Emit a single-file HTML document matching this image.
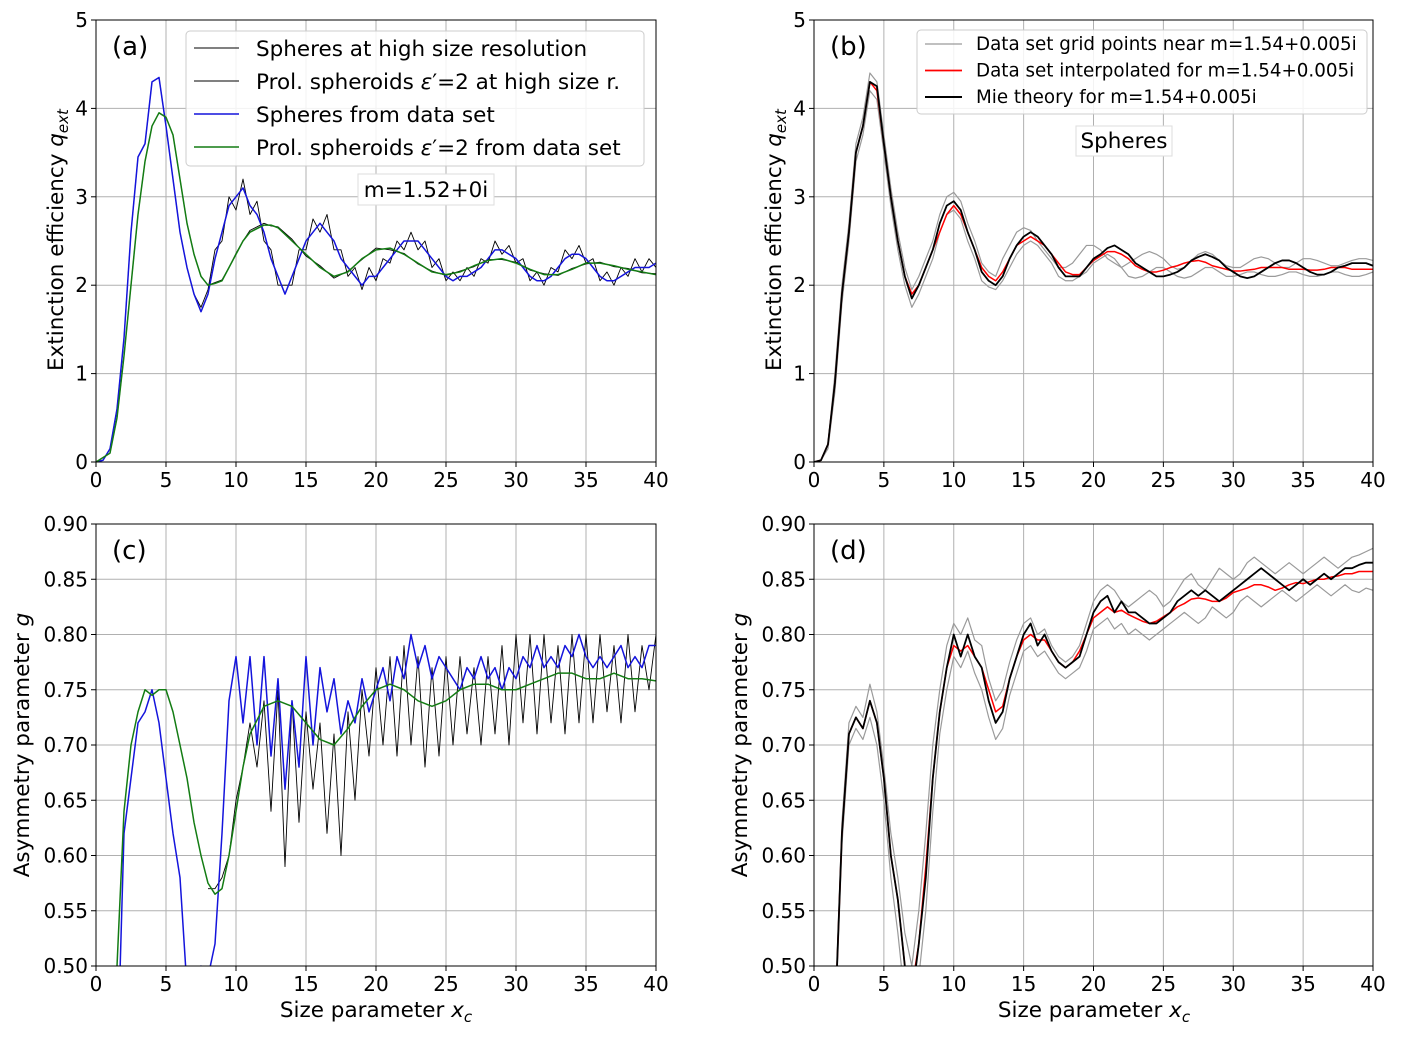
<!DOCTYPE html>
<html><head><meta charset="utf-8"><style>
html,body{margin:0;padding:0;background:#fff;width:1405px;height:1038px;overflow:hidden}
svg{display:block;font-family:"DejaVu Sans","Liberation Sans",sans-serif}
</style></head><body>
<svg id="fig" width="1405" height="1038" viewBox="0 0 1405 1038" xmlns="http://www.w3.org/2000/svg"></svg>
<script>
// ---------- Panel (a) data (x step 0.5 from 0) ----------
const aBlue=[0,0.02,0.15,0.6,1.4,2.6,3.45,3.6,4.3,4.35,
3.8,3.2,2.6,2.2,1.9,1.7,1.9,2.3,2.6,2.9,
3.0,3.1,2.9,2.8,2.6,2.3,2.1,1.9,2.1,2.3,
2.5,2.6,2.7,2.6,2.5,2.3,2.2,2.1,2.0,2.1,
2.1,2.2,2.3,2.4,2.5,2.5,2.5,2.4,2.3,2.2,
2.1,2.05,2.1,2.1,2.15,2.2,2.3,2.4,2.4,2.35,
2.3,2.2,2.1,2.05,2.05,2.1,2.2,2.3,2.35,2.35,
2.3,2.2,2.1,2.05,2.05,2.1,2.15,2.2,2.2,2.2,2.25];
const aBlackS=[0,0.02,0.15,0.6,1.4,2.6,3.45,3.6,4.3,4.35,
3.8,3.2,2.6,2.2,1.9,1.75,1.95,2.4,2.5,3.0,
2.85,3.2,2.8,2.95,2.5,2.4,2.0,2.0,2.0,2.4,
2.4,2.75,2.6,2.8,2.4,2.4,2.1,2.2,1.95,2.2,
2.05,2.3,2.25,2.5,2.4,2.6,2.4,2.5,2.2,2.3,
2.05,2.15,2.05,2.2,2.1,2.3,2.25,2.5,2.35,2.45,
2.25,2.3,2.05,2.15,2.0,2.2,2.15,2.4,2.3,2.45,
2.25,2.3,2.05,2.15,2.0,2.2,2.1,2.3,2.15,2.3,2.2];
const aGreenX=[0,1,1.5,2,2.5,3,3.5,4,4.5,5,5.5,6,6.5,7,7.5,8,8.5,9,9.5,10,10.5,11,12,12.5,13,14,15,16,17,18,19,20,21,22,23,24,25,26,27,28,29,30,31,32,33,34,35,36,37,38,39,40];
const aGreenY=[0,0.1,0.5,1.2,2.0,2.8,3.4,3.8,3.95,3.9,3.7,3.2,2.7,2.35,2.1,2.0,2.02,2.05,2.2,2.35,2.5,2.6,2.68,2.68,2.65,2.5,2.35,2.2,2.1,2.15,2.3,2.4,2.42,2.35,2.25,2.15,2.12,2.15,2.22,2.28,2.3,2.25,2.18,2.12,2.12,2.18,2.25,2.25,2.22,2.18,2.15,2.12];
const aBlackPY=[0,0.1,0.5,1.2,2.0,2.8,3.4,3.8,3.95,3.9,3.7,3.2,2.7,2.35,2.1,2.0,2.03,2.06,2.2,2.36,2.5,2.62,2.7,2.67,2.66,2.52,2.33,2.22,2.08,2.16,2.29,2.42,2.4,2.36,2.24,2.16,2.11,2.16,2.21,2.29,2.29,2.26,2.17,2.13,2.11,2.19,2.24,2.26,2.21,2.19,2.14,2.13];
// ---------- Panel (b) data (x step 0.5 from 0) ----------
const bMie=[0,0.02,0.2,0.9,1.9,2.6,3.5,3.8,4.3,4.25,
3.6,3.0,2.5,2.1,1.85,2.0,2.2,2.4,2.7,2.9,
2.95,2.85,2.6,2.4,2.15,2.05,2.0,2.1,2.3,2.45,
2.55,2.6,2.55,2.45,2.35,2.2,2.1,2.1,2.1,2.2,
2.3,2.35,2.42,2.45,2.4,2.35,2.25,2.2,2.15,2.1,
2.1,2.12,2.15,2.2,2.28,2.32,2.35,2.32,2.28,2.2,
2.15,2.1,2.08,2.1,2.15,2.2,2.25,2.28,2.28,2.25,
2.2,2.15,2.12,2.12,2.15,2.2,2.22,2.25,2.25,2.25,2.22];
const bInterp=[0,0.02,0.2,0.9,1.9,2.6,3.5,3.8,4.3,4.2,
3.6,3.0,2.5,2.1,1.9,2.0,2.2,2.4,2.6,2.8,
2.9,2.8,2.6,2.4,2.2,2.1,2.05,2.15,2.3,2.45,
2.5,2.55,2.5,2.45,2.35,2.25,2.15,2.12,2.12,2.2,
2.28,2.33,2.38,2.38,2.35,2.3,2.22,2.18,2.15,2.15,
2.17,2.2,2.22,2.25,2.27,2.28,2.26,2.22,2.2,2.18,
2.16,2.16,2.17,2.18,2.2,2.2,2.2,2.2,2.18,2.18,
2.18,2.17,2.17,2.18,2.2,2.2,2.2,2.18,2.18,2.18,2.18];
const bGrid1=[0,0.02,0.2,1.0,2.0,2.7,3.6,3.9,4.4,4.3,
3.7,3.1,2.6,2.2,1.95,2.1,2.3,2.5,2.8,3.0,
3.05,2.95,2.7,2.5,2.25,2.15,2.1,2.3,2.45,2.6,
2.65,2.62,2.5,2.4,2.3,2.2,2.2,2.25,2.35,2.45,
2.45,2.4,2.3,2.25,2.2,2.25,2.3,2.35,2.38,2.35,
2.3,2.22,2.18,2.2,2.28,2.35,2.38,2.35,2.28,2.22,
2.2,2.2,2.25,2.3,2.32,2.3,2.25,2.2,2.2,2.25,
2.3,2.3,2.28,2.25,2.22,2.22,2.25,2.28,2.3,2.3,2.28];
const bGrid2=[0,0.02,0.15,0.8,1.8,2.5,3.4,3.7,4.2,4.1,
3.5,2.9,2.4,2.0,1.75,1.9,2.1,2.3,2.6,2.8,
2.85,2.75,2.5,2.3,2.05,1.98,1.95,2.05,2.2,2.35,
2.45,2.5,2.45,2.35,2.25,2.1,2.05,2.05,2.1,2.15,
2.25,2.3,2.35,2.3,2.2,2.1,2.08,2.1,2.15,2.2,
2.2,2.15,2.1,2.08,2.1,2.15,2.2,2.2,2.15,2.1,
2.1,2.12,2.15,2.15,2.12,2.1,2.1,2.12,2.15,2.15,
2.12,2.1,2.1,2.12,2.15,2.15,2.12,2.1,2.1,2.12,2.15];
// ---------- Panel (c) data ----------
const cBlue=[0.3,0.3,0.3,0.4,0.62,0.67,0.72,0.73,0.75,0.72,
0.67,0.62,0.58,0.48,0.46,0.5,0.49,0.52,0.62,0.74,
0.78,0.72,0.78,0.70,0.78,0.69,0.76,0.66,0.74,0.68,
0.78,0.70,0.77,0.73,0.76,0.71,0.74,0.72,0.76,0.73,
0.75,0.77,0.74,0.78,0.76,0.80,0.77,0.79,0.76,0.78,
0.77,0.76,0.75,0.77,0.76,0.78,0.76,0.77,0.75,0.77,
0.76,0.78,0.77,0.79,0.77,0.78,0.77,0.79,0.78,0.80,
0.78,0.77,0.78,0.77,0.78,0.79,0.77,0.78,0.77,0.79,0.79];
const cGreenX=[1.5,2,2.5,3,3.5,4,4.5,5,5.5,6,6.5,7,7.5,8,8.5,9,9.5,10,10.5,11,12,13,14,15,16,17,18,19,20,21,22,23,24,25,26,27,28,29,30,31,32,33,34,35,36,37,38,39,40];
const cGreenY=[0.5,0.64,0.7,0.73,0.75,0.745,0.75,0.75,0.73,0.7,0.67,0.63,0.6,0.575,0.565,0.57,0.6,0.64,0.68,0.71,0.735,0.74,0.735,0.72,0.705,0.7,0.715,0.735,0.75,0.755,0.75,0.74,0.735,0.74,0.75,0.755,0.755,0.75,0.75,0.755,0.76,0.765,0.765,0.76,0.76,0.765,0.76,0.76,0.758];
// high-res black, x step 0.5 from 8
const cBlack=[0.57,0.57,0.58,0.6,0.65,0.68,0.72,0.68,0.74,0.64,0.75,0.59,0.74,0.63,0.73,0.66,0.72,0.62,0.71,0.6,
0.73,0.65,0.75,0.69,0.77,0.7,0.78,0.69,0.79,0.7,0.78,0.68,0.77,0.69,0.78,0.7,0.78,0.71,0.77,0.7,
0.78,0.71,0.79,0.7,0.8,0.72,0.8,0.71,0.8,0.72,0.79,0.71,0.8,0.72,0.8,0.72,0.8,0.73,0.79,0.72,
0.8,0.73,0.79,0.75,0.8];
// ---------- Panel (d) data, x step 0.5 from 1.5 ----------
const dMie=[0.45,0.62,0.71,0.725,0.715,0.74,0.72,0.67,0.6,0.56,0.5,0.47,0.52,0.58,0.67,0.73,0.77,0.8,0.78,0.8,
0.78,0.77,0.74,0.72,0.73,0.76,0.78,0.8,0.81,0.79,0.8,0.785,0.775,0.77,0.775,0.78,0.8,0.82,0.83,0.835,
0.82,0.83,0.82,0.82,0.815,0.81,0.81,0.815,0.82,0.83,0.835,0.84,0.835,0.84,0.835,0.83,0.835,0.84,0.845,0.85,
0.855,0.86,0.855,0.85,0.845,0.84,0.845,0.85,0.845,0.85,0.855,0.85,0.855,0.86,0.86,0.863,0.865,0.865];
const dInterp=[0.45,0.62,0.71,0.725,0.715,0.74,0.72,0.67,0.6,0.56,0.5,0.48,0.52,0.59,0.67,0.73,0.77,0.79,0.785,0.79,
0.78,0.77,0.75,0.73,0.735,0.76,0.78,0.795,0.8,0.795,0.795,0.785,0.775,0.77,0.775,0.785,0.8,0.815,0.82,0.825,
0.82,0.822,0.818,0.815,0.812,0.81,0.812,0.816,0.82,0.825,0.828,0.832,0.833,0.832,0.83,0.83,0.833,0.838,0.84,0.842,
0.845,0.845,0.843,0.84,0.842,0.845,0.847,0.846,0.848,0.85,0.85,0.852,0.853,0.855,0.855,0.857,0.857,0.857];
const dGrid1=[0.45,0.63,0.72,0.735,0.725,0.755,0.73,0.68,0.62,0.58,0.53,0.5,0.55,0.62,0.7,0.75,0.79,0.81,0.8,0.815,
0.795,0.79,0.76,0.74,0.75,0.775,0.795,0.81,0.815,0.8,0.805,0.79,0.78,0.775,0.78,0.79,0.81,0.83,0.84,0.845,
0.84,0.83,0.825,0.83,0.835,0.84,0.835,0.825,0.83,0.84,0.85,0.855,0.845,0.84,0.85,0.86,0.855,0.85,0.855,0.865,
0.87,0.865,0.86,0.855,0.86,0.865,0.86,0.855,0.86,0.865,0.87,0.865,0.86,0.865,0.87,0.872,0.875,0.878];
const dGrid2=[0.44,0.61,0.7,0.715,0.705,0.725,0.7,0.65,0.58,0.53,0.47,0.44,0.49,0.55,0.64,0.71,0.75,0.78,0.77,0.785,
0.765,0.75,0.725,0.705,0.715,0.745,0.765,0.785,0.79,0.78,0.785,0.775,0.765,0.76,0.765,0.77,0.785,0.805,0.81,0.815,
0.805,0.81,0.8,0.805,0.8,0.795,0.8,0.805,0.81,0.815,0.82,0.815,0.81,0.815,0.825,0.82,0.815,0.82,0.83,0.835,
0.83,0.825,0.83,0.835,0.84,0.835,0.83,0.835,0.84,0.845,0.84,0.835,0.84,0.845,0.84,0.838,0.842,0.84];

// ---------- rendering ----------
const NS='http://www.w3.org/2000/svg';
const svg=document.getElementById('fig');
function mk(tag,attrs,parent){const e=document.createElementNS(NS,tag);for(const k in attrs)e.setAttribute(k,attrs[k]);(parent||svg).appendChild(e);return e;}
function xsFrom(start,n){const r=[];for(let i=0;i<n;i++)r.push(start+i*0.5);return r;}

function makePanel(id,L,R,T,B,ymin,ymax,yticks,ydec){
  const g=mk('g',{});
  
  
  const sx=v=>L+(v-0)/(40-0)*(R-L);
  const sy=v=>B-(v-ymin)/(ymax-ymin)*(B-T);
  for(let t=0;t<=40;t+=5){const l=mk('line',{x1:sx(t),x2:sx(t),y1:T,y2:B,stroke:'#b0b0b0','stroke-width':1},g);
    }
  yticks.forEach(t=>{const l=mk('line',{x1:L,x2:R,y1:sy(t),y2:sy(t),stroke:'#b0b0b0','stroke-width':1},g);
    });
  const cp=mk('clipPath',{id:'clip'+id},g);
  mk('rect',{x:L,y:T,width:R-L,height:B-T},cp);
  const plot=mk('g',{'clip-path':'url(#clip'+id+')'},g);
  
  const fr=mk('rect',{x:L,y:T,width:R-L,height:B-T,fill:'none',stroke:'#000','stroke-width':1},g);
  
  for(let t=0;t<=40;t+=5){
    mk('line',{x1:sx(t),x2:sx(t),y1:B,y2:B+5,stroke:'#000'},g);
    const tx=mk('text',{x:sx(t),y:B+25,'font-size':20,'text-anchor':'middle'},g);tx.textContent=t;
    
  }
  yticks.forEach(t=>{
    mk('line',{x1:L-5,x2:L,y1:sy(t),y2:sy(t),stroke:'#000'},g);
    const tx=mk('text',{x:L-8,y:sy(t)+7,'font-size':20,'text-anchor':'end'},g);tx.textContent=t.toFixed(ydec);
    
  });
  return {g,plot,sx,sy,L,R,T,B};
}
function line(P,xs,ys,color,w,name){
  let d='';for(let i=0;i<ys.length;i++)d+=(i?'L':'M')+P.sx(xs[i]).toFixed(2)+' '+P.sy(ys[i]).toFixed(2);
  const p=mk('path',{d:d,fill:'none',stroke:color,'stroke-width':w,'stroke-linejoin':'round'},P.plot);
  
}
function text(x,y,s,size,attrs,name){const t=mk('text',Object.assign({x:x,y:y,'font-size':size},attrs||{}));t.innerHTML=s;
  return t;}

const BLUE='#1414dc',GREEN='#137c13',GREY='#9a9a9a';
const qt=[0,1,2,3,4,5], gt=[0.5,0.55,0.6,0.65,0.7,0.75,0.8,0.85,0.9];
const A=makePanel('a',96,656,20,462,0,5,qt,0);
const Bp=makePanel('b',814,1373,20,462,0,5,qt,0);
const C=makePanel('c',96,656,524,966,0.5,0.9,gt,2);
const D=makePanel('d',814,1373,524,966,0.5,0.9,gt,2);

line(A,xsFrom(0,aBlackS.length),aBlackS,'#000',0.9,'spheres-high-res-line');
line(A,aGreenX,aBlackPY,'#000',0.9,'prolate-high-res-line');
line(A,xsFrom(0,aBlue.length),aBlue,BLUE,1.5,'spheres-data-set-line');
line(A,aGreenX,aGreenY,GREEN,1.5,'prolate-data-set-line');

line(Bp,xsFrom(0,bGrid1.length),bGrid1,GREY,1.2,'grid-point-line-1');
line(Bp,xsFrom(0,bGrid2.length),bGrid2,GREY,1.2,'grid-point-line-2');
line(Bp,xsFrom(0,bInterp.length),bInterp,'#ff0000',1.5,'interpolated-line');
line(Bp,xsFrom(0,bMie.length),bMie,'#000',1.8,'mie-theory-line');

line(C,xsFrom(8,cBlack.length),cBlack,'#000',0.9,'spheres-high-res-line');
line(C,xsFrom(0,cBlue.length),cBlue,BLUE,1.5,'spheres-data-set-line');
line(C,cGreenX,cGreenY,GREEN,1.5,'prolate-data-set-line');

line(D,xsFrom(1.5,dGrid1.length),dGrid1,GREY,1.2,'grid-point-line-1');
line(D,xsFrom(1.5,dGrid2.length),dGrid2,GREY,1.2,'grid-point-line-2');
line(D,xsFrom(1.5,dInterp.length),dInterp,'#ff0000',1.5,'interpolated-line');
line(D,xsFrom(1.5,dMie.length),dMie,'#000',1.8,'mie-theory-line');

text(112,55,'(a)',26,{},'panel-label-a');
text(830,55,'(b)',26,{},'panel-label-b');
text(112,559,'(c)',26,{},'panel-label-c');
text(830,559,'(d)',26,{},'panel-label-d');

const yq='Extinction efficiency <tspan font-style="italic">q</tspan><tspan font-style="italic" font-size="15" dy="5">ext</tspan>';
text(0,0,yq,21.5,{transform:'translate(63,240) rotate(-90)','text-anchor':'middle'},'y-axis-title-a');
text(0,0,yq,21.5,{transform:'translate(781,240) rotate(-90)','text-anchor':'middle'},'y-axis-title-b');
const yg='Asymmetry parameter <tspan font-style="italic">g</tspan>';
text(0,0,yg,21.5,{transform:'translate(29,745) rotate(-90)','text-anchor':'middle'},'y-axis-title-c');
text(0,0,yg,21.5,{transform:'translate(747,745) rotate(-90)','text-anchor':'middle'},'y-axis-title-d');
const xl='Size parameter <tspan font-style="italic">x</tspan><tspan font-style="italic" font-size="15" dy="5">c</tspan>';
text(376,1017,xl,21.5,{'text-anchor':'middle'},'x-axis-title-c');
text(1094,1017,xl,21.5,{'text-anchor':'middle'},'x-axis-title-d');

const la=mk('rect',{x:186,y:31,width:458,height:135,rx:4,fill:'#fff','fill-opacity':0.85,stroke:'#ccc'});

[['Spheres at high size resolution','#000',0.9],
 ['Prol. spheroids <tspan font-style="italic">ε</tspan>′=2 at high size r.','#000',0.9],
 ['Spheres from data set',BLUE,1.5],
 ['Prol. spheroids <tspan font-style="italic">ε</tspan>′=2 from data set',GREEN,1.5]].forEach((e,i)=>{
  const y=48+i*33;
  const l=mk('line',{x1:194,x2:239,y1:y,y2:y,stroke:e[1],'stroke-width':e[2]});
  
  text(256,y+8,e[0],21.5,{},'legend-entry');
});
mk('rect',{x:358,y:174,width:136,height:31,fill:'#fff',stroke:'#ddd'});
text(426,197,'m=1.52+0i',21.5,{'text-anchor':'middle'},'refractive-index-annotation');

const lb=mk('rect',{x:917,y:30,width:450,height:84,rx:4,fill:'#fff','fill-opacity':0.85,stroke:'#ccc'});

[['Data set grid points near m=1.54+0.005i',GREY,1.2],
 ['Data set interpolated for m=1.54+0.005i','#ff0000',1.8],
 ['Mie theory for m=1.54+0.005i','#000',2]].forEach((e,i)=>{
  const y=44+i*26.5;
  const l=mk('line',{x1:925,x2:962,y1:y,y2:y,stroke:e[1],'stroke-width':e[2]});
  
  text(976,y+6,e[0],18.3,{},'legend-entry');
});
mk('rect',{x:1076,y:126,width:96,height:30,fill:'#fff',stroke:'#ddd'});
text(1124,148,'Spheres',21.5,{'text-anchor':'middle'},'spheres-annotation');
</script>
</body></html>
